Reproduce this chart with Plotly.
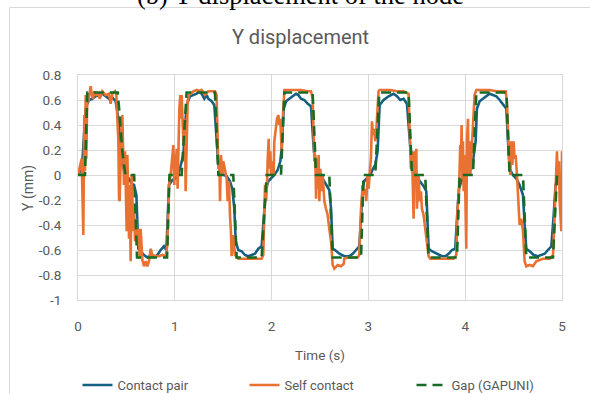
import plotly.graph_objects as go

# ---------------- data (time in s, displacement in mm) ----------------
contact_pair = [
    (0, 0), (0.028, 0.03), (0.045, 0.11), (0.062, 0.32), (0.079, 0.53), (0.096, 0.57), (0.114, 0.60),
    (0.148, 0.61), (0.183, 0.63), (0.217, 0.64), (0.251, 0.65), (0.286, 0.63), (0.32, 0.61), (0.355, 0.62),
    (0.389, 0.59), (0.417, 0.45), (0.441, 0.19), (0.458, 0.08), (0.492, 0), (0.527, -0.03), (0.554, -0.07),
    (0.579, -0.08), (0.603, -0.16), (0.623, -0.59), (0.647, -0.61), (0.682, -0.64), (0.716, -0.66),
    (0.751, -0.64), (0.785, -0.66), (0.82, -0.64), (0.854, -0.60), (0.888, -0.57), (0.913, -0.60),
    (0.94, -0.08), (0.975, -0.04),
    (1.002, -0.03), (1.036, 0), (1.064, 0.08), (1.088, 0.16), (1.105, 0.37), (1.122, 0.56), (1.157, 0.63),
    (1.191, 0.64), (1.226, 0.65), (1.25, 0.67), (1.277, 0.65), (1.305, 0.61), (1.329, 0.64), (1.346, 0.61),
    (1.381, 0.59), (1.408, 0.56), (1.432, 0.27), (1.45, 0.08), (1.484, 0.01), (1.536, -0.01), (1.57, -0.05),
    (1.594, -0.11), (1.615, -0.27), (1.629, -0.53), (1.656, -0.60), (1.691, -0.61), (1.725, -0.64),
    (1.759, -0.65), (1.794, -0.64), (1.828, -0.63), (1.863, -0.59), (1.897, -0.57), (1.932, -0.21),
    (1.942, -0.11), (1.966, -0.05), (1.994, -0.03), (2.028, 0), (2.063, 0.04), (2.09, 0.11), (2.104, 0.21),
    (2.125, 0.53), (2.149, 0.59), (2.183, 0.61), (2.218, 0.63), (2.252, 0.65), (2.276, 0.64), (2.304, 0.61),
    (2.338, 0.60), (2.373, 0.57), (2.407, 0.55), (2.435, 0.21), (2.459, 0.05), (2.493, 0), (2.528, -0.03),
    (2.562, -0.07), (2.596, -0.12), (2.614, -0.27), (2.631, -0.59), (2.655, -0.60), (2.7, -0.63),
    (2.751, -0.65), (2.803, -0.65), (2.838, -0.63), (2.872, -0.60), (2.906, -0.57), (2.93, -0.27),
    (2.94, -0.11), (2.955, -0.05), (2.985, -0.03), (3.019, 0), (3.047, 0.05), (3.071, 0.08), (3.095, 0.19),
    (3.116, 0.56), (3.157, 0.60), (3.209, 0.63), (3.26, 0.65), (3.295, 0.63), (3.329, 0.60), (3.364, 0.61),
    (3.398, 0.57), (3.426, 0.27), (3.45, 0.05), (3.484, 0), (3.536, -0.05), (3.57, -0.09), (3.598, -0.13),
    (3.622, -0.59), (3.656, -0.61), (3.708, -0.63), (3.76, -0.65), (3.794, -0.65), (3.829, -0.63),
    (3.863, -0.60), (3.897, -0.59), (3.921, -0.27),
    (3.936, -0.11), (3.96, -0.05), (3.994, 0), (4.029, 0.03), (4.063, 0.05), (4.08, 0.11), (4.108, 0.27),
    (4.121, 0.53), (4.149, 0.59), (4.183, 0.61), (4.218, 0.63), (4.252, 0.65), (4.287, 0.64), (4.321, 0.63),
    (4.356, 0.60), (4.39, 0.57), (4.425, 0.53), (4.442, 0.27), (4.459, 0.05), (4.493, 0), (4.528, -0.03),
    (4.562, -0.08), (4.597, -0.16), (4.614, -0.40), (4.631, -0.59), (4.666, -0.61), (4.707, -0.64),
    (4.752, -0.65), (4.786, -0.64), (4.821, -0.63), (4.855, -0.60), (4.89, -0.57), (4.914, -0.32),
    (4.934, -0.08), (4.958, -0.03), (5.0, 0),
]

self_contact = [
    (0, 0), (0.017, 0.05), (0.038, 0.13), (0.055, -0.48), (0.065, 0.48), (0.072, 0.03), (0.079, 0.64),
    (0.086, 0.13), (0.096, 0.65), (0.107, 0.59), (0.131, 0.71), (0.141, 0.65), (0.155, 0.61), (0.169, 0.67),
    (0.189, 0.64), (0.21, 0.65), (0.224, 0.61), (0.251, 0.67), (0.286, 0.64), (0.32, 0.65), (0.337, 0.57),
    (0.355, 0.65), (0.382, 0.67), (0.396, 0.64), (0.406, 0.51), (0.417, 0.27), (0.424, -0.19), (0.43, -0.21),
    (0.451, 0.40), (0.458, 0.48), (0.468, 0.13), (0.475, -0.08), (0.486, 0.19), (0.492, 0), (0.503, -0.45),
    (0.51, 0.16), (0.52, -0.27), (0.527, -0.51), (0.534, -0.08), (0.544, -0.69), (0.554, 0), (0.561, -0.21),
    (0.572, -0.45), (0.579, -0.27), (0.589, -0.53), (0.596, -0.35), (0.613, -0.56), (0.63, -0.43),
    (0.637, -0.67), (0.647, -0.43), (0.665, -0.68), (0.682, -0.73), (0.699, -0.69), (0.716, -0.73),
    (0.733, -0.69), (0.751, -0.59), (0.768, -0.64), (0.802, -0.65), (0.837, -0.65), (0.871, -0.64),
    (0.906, -0.65), (0.923, -0.56), (0.94, -0.08), (0.957, 0), (0.975, 0.21),
    (0.985, 0.24), (0.995, -0.08), (1.002, 0.16), (1.009, 0), (1.019, 0.21), (1.029, -0.11), (1.036, 0.24),
    (1.047, 0.53), (1.057, 0.64), (1.064, 0.45), (1.071, 0.64), (1.078, 0.53), (1.088, 0.27), (1.098, 0.35),
    (1.105, 0.45), (1.112, -0.13), (1.122, 0.40), (1.133, 0.59), (1.146, 0.64), (1.167, 0.65), (1.191, 0.67),
    (1.226, 0.68), (1.25, 0.67), (1.277, 0.68), (1.312, 0.64), (1.346, 0.67), (1.381, 0.67), (1.415, 0.67),
    (1.432, 0.64), (1.443, 0.27), (1.45, 0.05), (1.46, 0.13), (1.467, -0.21), (1.477, 0.16), (1.491, 0),
    (1.501, 0.11), (1.518, 0.05), (1.536, -0.03), (1.546, -0.21), (1.56, -0.05), (1.57, -0.32), (1.58, -0.45),
    (1.587, -0.65), (1.604, -0.48), (1.622, -0.64), (1.656, -0.67), (1.759, -0.67), (1.897, -0.67),
    (1.914, -0.64), (1.932, -0.08),
    (1.942, -0.21), (1.953, -0.08), (1.959, 0.11), (1.97, 0.29), (1.977, 0.05), (1.987, 0.19), (1.994, 0),
    (2.001, 0.11), (2.011, 0.05), (2.021, 0), (2.028, 0.27), (2.046, 0.40), (2.056, 0.45), (2.07, 0.48),
    (2.08, 0.40), (2.09, 0.45), (2.104, 0.19), (2.114, 0.43), (2.125, 0.67), (2.132, 0.68), (2.235, 0.68),
    (2.304, 0.68), (2.373, 0.67), (2.407, 0.67), (2.424, 0.61), (2.435, 0.27), (2.442, 0.11), (2.452, 0.16),
    (2.459, -0.19), (2.466, 0.13), (2.476, -0.11), (2.486, 0.16), (2.493, -0.21), (2.504, 0.05),
    (2.517, -0.13), (2.528, 0), (2.545, -0.21), (2.562, -0.27), (2.579, -0.32), (2.596, -0.43),
    (2.614, -0.53), (2.631, -0.72), (2.648, -0.75), (2.683, -0.72), (2.717, -0.73), (2.745, -0.71),
    (2.751, -0.67), (2.786, -0.66), (2.889, -0.66), (2.906, -0.64), (2.924, -0.27), (2.941, -0.08),
    (2.957, -0.16), (2.968, -0.11), (2.978, -0.21), (2.992, 0), (3.002, -0.11), (3.012, 0), (3.026, 0.13),
    (3.037, 0.43), (3.047, 0.32), (3.061, 0.37), (3.071, 0.27), (3.081, 0.35), (3.095, 0.53), (3.105, 0.67),
    (3.116, 0.68), (3.226, 0.68), (3.295, 0.67), (3.364, 0.67), (3.415, 0.65), (3.433, 0.27), (3.439, 0.05),
    (3.45, 0.19), (3.46, -0.21), (3.467, -0.35), (3.477, 0.19), (3.484, -0.05), (3.495, 0.21), (3.501, -0.27),
    (3.519, 0), (3.529, -0.21), (3.543, -0.13), (3.553, -0.27), (3.57, -0.32), (3.587, -0.43), (3.605, -0.53),
    (3.622, -0.65), (3.639, -0.67), (3.88, -0.67), (3.908, -0.64), (3.921, -0.27),
    (3.936, -0.13), (3.942, 0), (3.949, 0.24), (3.956, 0.13), (3.963, 0.40), (3.97, -0.03), (3.977, 0.27),
    (3.984, -0.13), (3.991, 0.16), (3.998, 0), (4.004, -0.21), (4.011, -0.59), (4.018, 0.27), (4.029, 0.45),
    (4.035, 0), (4.046, 0.27), (4.053, 0), (4.063, 0.16), (4.073, 0.27), (4.087, 0.51), (4.097, 0.64),
    (4.115, 0.68), (4.183, 0.68), (4.252, 0.68), (4.321, 0.67), (4.39, 0.67), (4.418, 0.67), (4.431, 0.59),
    (4.442, 0.27), (4.452, 0.16), (4.466, 0), (4.476, 0.27), (4.487, 0.08), (4.5, 0.27), (4.51, 0.13),
    (4.521, 0.16), (4.535, 0), (4.545, -0.13), (4.555, -0.21), (4.562, -0.40), (4.579, -0.35), (4.597, -0.45),
    (4.614, -0.69), (4.631, -0.73), (4.666, -0.72), (4.7, -0.73), (4.734, -0.69), (4.769, -0.68),
    (4.803, -0.67), (4.872, -0.67), (4.907, -0.64), (4.924, -0.32), (4.941, 0), (4.948, 0.19), (4.958, -0.08),
    (4.969, 0.11), (4.976, -0.21), (4.982, -0.35), (4.993, -0.45), (5.0, 0.19),
]

gap_gapuni = [
    (0, 0), (0.072, 0), (0.096, 0.66), (0.41, 0.66), (0.425, 0.53), (0.458, 0.19), (0.49, 0), (0.58, 0),
    (0.61, -0.66), (0.92, -0.66), (0.945, 0),
    (1.07, 0), (1.122, 0.66), (1.415, 0.66), (1.45, 0), (1.604, 0), (1.639, -0.66), (1.897, -0.66), (1.949, 0),
    (2.097, 0), (2.132, 0.66), (2.424, 0.66), (2.459, 0), (2.596, 0), (2.631, -0.66), (2.924, -0.66), (2.95, 0),
    (3.071, 0), (3.112, 0.66), (3.415, 0.66), (3.45, 0), (3.587, 0), (3.622, -0.66), (3.915, -0.66), (3.942, 0),
    (4.08, 0), (4.115, 0.66), (4.425, 0.66), (4.459, 0), (4.597, 0), (4.631, -0.66), (4.907, -0.66), (4.948, 0),
    (5.0, 0),
]

series_names = ["Contact pair", "Self contact", "Gap (GAPUNI)"]
x_ticks = [0, 1, 2, 3, 4, 5]
x_tick_labels = ["0", "1", "2", "3", "4", "5"]
y_ticks = [0.8, 0.6, 0.4, 0.2, 0, -0.2, -0.4, -0.6, -0.8, -1]
y_tick_labels = ["0.8", "0.6", "0.4", "0.2", "0", "-0.2", "-0.4", "-0.6", "-0.8", "-1"]

# ---------------- figure ----------------
W, H = 590, 394
ML, MR, MT, MB = 78, 28, 75, 94
PW, PH = W - ML - MR, H - MT - MB


def px_x(p):  # pixel -> paper x
    return (p - ML) / PW


def px_y(p):  # pixel (from top) -> paper y
    return (H - MB - p) / PH


GRID = "#d9d9d9"
TXT = "#595959"
FONT = "Roboto, 'Liberation Sans', sans-serif"

fig = go.Figure()
styles = [
    dict(color="#156082", width=2.6),
    dict(color="#E97132", width=2.6),
    dict(color="#196B24", width=2.6, dash="10px,6px"),
]
for name, data, st in zip(series_names, [contact_pair, self_contact, gap_gapuni], styles):
    xs = [p[0] for p in data]
    ys = [p[1] for p in data]
    fig.add_trace(go.Scatter(x=xs, y=ys, mode="lines", name=name, line=st))

fig.update_layout(
    width=W, height=H,
    margin=dict(l=ML, r=MR, t=MT, b=MB, pad=0, autoexpand=False),
    paper_bgcolor="white", plot_bgcolor="white",
    font=dict(family=FONT, color=TXT, size=13.5),
    title=dict(text="Y displacement", font=dict(family=FONT, size=20, color=TXT),
               xref="paper", x=px_x(300.5), xanchor="center",
               yref="container", y=1 - 37 / H, yanchor="middle"),
    showlegend=True,
    legend=dict(orientation="h", xref="paper", x=px_x(77.5), xanchor="left",
                yref="paper", y=px_y(385), yanchor="middle",
                font=dict(family=FONT, size=13, color=TXT),
                entrywidth=122, entrywidthmode="pixels",
                bgcolor="rgba(0,0,0,0)", borderwidth=0, tracegroupgap=0),
    xaxis=dict(range=[0, 5], tickvals=x_ticks, ticktext=x_tick_labels,
               showgrid=True, gridcolor=GRID, gridwidth=1, zeroline=False,
               showline=True, mirror=True, linecolor=GRID, linewidth=1,
               ticks="", ticklabelstandoff=14, automargin=False,
               tickfont=dict(family=FONT, size=13.5, color=TXT), fixedrange=True),
    yaxis=dict(range=[-1, 0.8], tickvals=y_ticks, ticktext=y_tick_labels,
               showgrid=True, gridcolor=GRID, gridwidth=1, zeroline=False,
               showline=True, mirror=True, linecolor=GRID, linewidth=1,
               ticks="", ticklabelstandoff=13, automargin=False,
               tickfont=dict(family=FONT, size=13.5, color=TXT), fixedrange=True),
)

# chart-area frame
fig.add_shape(type="rect", xref="paper", yref="paper",
              x0=px_x(9.5), x1=px_x(600), y0=px_y(400), y1=px_y(7.5),
              line=dict(color=GRID, width=1), fillcolor="rgba(0,0,0,0)", layer="below")

# clipped document caption above the chart
fig.add_annotation(text="(b) Y displacement of the node", xref="paper", yref="paper",
                   x=px_x(300), y=px_y(-5.5), xanchor="center", yanchor="middle",
                   showarrow=False, font=dict(family="'Liberation Serif', 'Times New Roman', serif",
                                              size=26.5, color="black"))
# axis titles
fig.add_annotation(text="Time (s)", xref="paper", yref="paper", x=px_x(320), y=px_y(355),
                   xanchor="center", yanchor="middle", showarrow=False,
                   font=dict(family=FONT, size=13.5, color=TXT))
fig.add_annotation(text="Y (mm)", xref="paper", yref="paper", x=px_x(28), y=px_y(188),
                   xanchor="center", yanchor="middle", showarrow=False, textangle=-90,
                   font=dict(family=FONT, size=14, color=TXT))

fig.write_html("out.html", config={"displayModeBar": False},
               post_script="document.body.style.margin='0px';")
